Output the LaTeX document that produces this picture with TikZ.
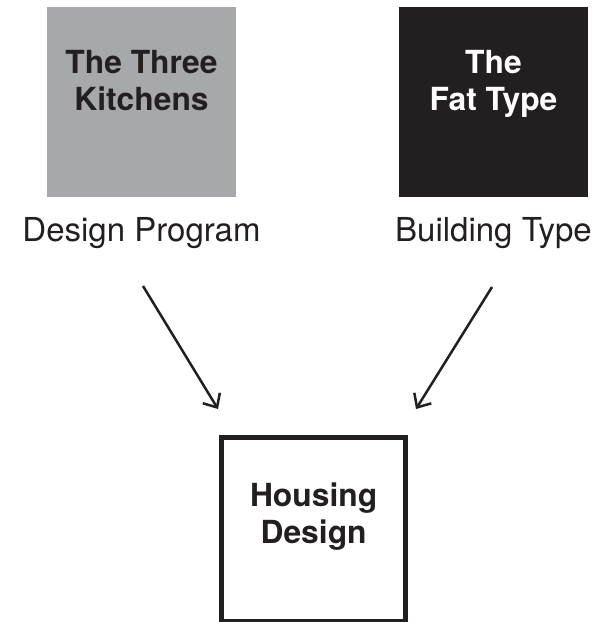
\documentclass[tikz,border=0pt]{standalone}
\usepackage{fontspec}
\setmainfont{TeX Gyre Heros}
\usetikzlibrary{positioning,arrows.meta}
\definecolor{boxgray}{RGB}{167,168,172}
\definecolor{inkblack}{RGB}{35,31,32}
\begin{document}
\begin{tikzpicture}[x=1pt,y=1pt]
	% formats
	\tikzstyle{square} = [minimum width=189pt, minimum height=190pt, inner sep=0pt, outer sep=0pt]
	\tikzstyle{title} = [anchor=north, align=center, inner sep=0pt, font=\fontsize{31.8}{37}\selectfont\bfseries]
	\tikzstyle{caption} = [anchor=base, inner sep=0pt, text=inkblack, font=\fontsize{33}{39}\selectfont]
	\tikzstyle{arrow} = [-{Straight Barb[length=11pt,width=20pt]}, line width=2.5pt, draw=inkblack]
	\useasboundingbox (0,0) rectangle (595,-622);
	% boxes
	\node [square, fill=boxgray] (kitchens) at (141.5,-102) {};
	\node [square, fill=inkblack] (fattype) [right=163pt of kitchens] {};
	\node [draw=inkblack, line width=5pt, minimum width=184pt, minimum height=184pt,
		inner sep=0pt, outer sep=0pt] (housing) at (313.6,-529.5) {};
	% texts
	\node [title, text=inkblack] (kitchensText) at ([yshift=-43pt]kitchens.north) {The Three\\Kitchens};
	\node [title, text=white] (fattypeText) at ([yshift=-43pt]fattype.north) {The\\Fat Type};
	\node [title, text=inkblack] (housingText) at ([yshift=-45.5pt]housing.north) {Housing\\Design};
	\node [caption] (program) at ([yshift=-44.7pt]kitchens.south) {Design Program};
	\node [caption] (buildtype) at ([yshift=-44.7pt]fattype.south) {Building Type};
	% relations
	\coordinate (programEnd) at (143,-286);
	\coordinate (buildtypeEnd) at (492,-287);
	\coordinate (housingLeft) at (218,-409);
	\coordinate (housingRight) at (416,-409);
	\draw [arrow] (programEnd) -- (housingLeft);
	\draw [arrow] (buildtypeEnd) -- (housingRight);
\end{tikzpicture}
\end{document}
